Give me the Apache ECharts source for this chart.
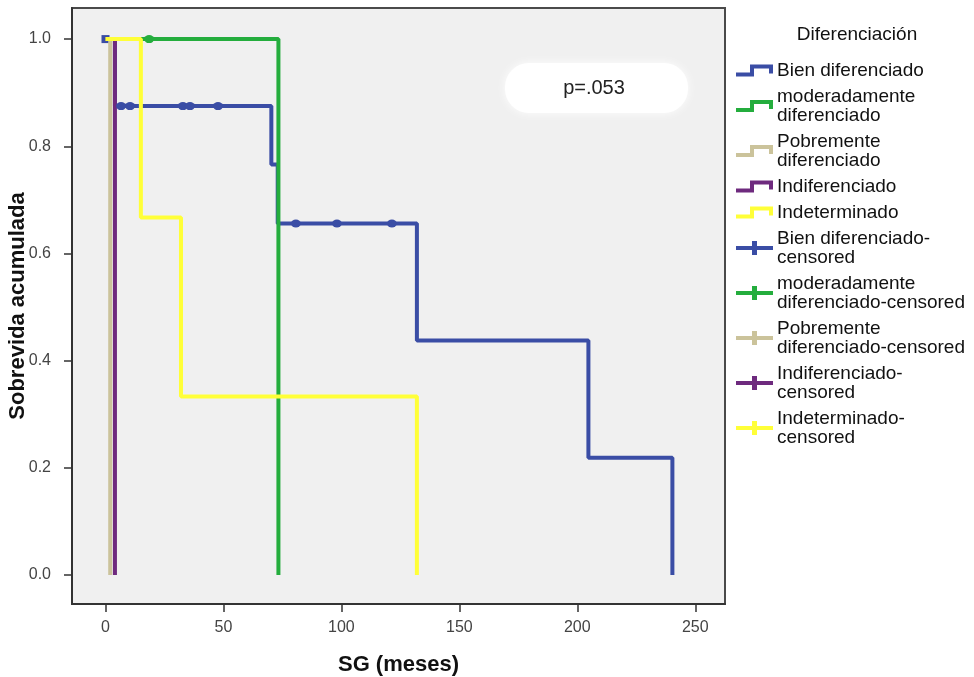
<!DOCTYPE html>
<html>
<head>
<meta charset="utf-8">
<script src="https://cdn.jsdelivr.net/npm/echarts@6/dist/echarts.min.js"></script>
<style>
html,body{margin:0;padding:0;background:#fff;}
#chart{width:974px;height:677px;}
</style>
</head>
<body>
<div id="chart"></div>
<script>
// ---- data ----
const xTicks = [0, 50, 100, 150, 200, 250];
const yTicks = [0, 0.2, 0.4, 0.6, 0.8, 1.0];

const groupNames = ['Bien diferenciado', 'moderadamente diferenciado', 'Pobremente diferenciado', 'Indiferenciado', 'Indeterminado'];

// survival step curves (time in months, cumulative survival)
const bienTimes = [0, 4, 70.3, 73, 132, 204.7, 240.3];
const bienSurv  = [1, 0.875, 0.766, 0.656, 0.4375, 0.219, 0];
const modTimes  = [0, 73.3];
const modSurv   = [1, 0];
const pobTimes  = [0, 2];
const pobSurv   = [1, 0];
const indifTimes = [0, 4];
const indifSurv  = [1, 0];
const indetTimes = [0, 15, 32, 132];
const indetSurv  = [1, 0.667, 0.333, 0];

// censored observations
const bienCensTimes = [6.6, 10.4, 32.8, 35.8, 47.7, 80.7, 98.1, 121.4];
const bienCensSurv  = [0.875, 0.875, 0.875, 0.875, 0.875, 0.656, 0.656, 0.656];
const modCensTimes = [18.5];
const modCensSurv  = [1];
const pobCensTimes = [];
const pobCensSurv  = [];
const indifCensTimes = [];
const indifCensSurv  = [];
const indetCensTimes = [];
const indetCensSurv  = [];

const pValueText = 'p=.053';

// ---- build ----
const colors = ['#3a4da5', '#24ad3d', '#cbc39b', '#6e2a7e', '#ffff38'];
const zip = (a, b) => a.map((v, i) => [v, b[i]]);
const curves = [
  zip(bienTimes, bienSurv), zip(modTimes, modSurv), zip(pobTimes, pobSurv),
  zip(indifTimes, indifSurv), zip(indetTimes, indetSurv)
];
const cens = [
  zip(bienCensTimes, bienCensSurv), zip(modCensTimes, modCensSurv), zip(pobCensTimes, pobCensSurv),
  zip(indifCensTimes, indifCensSurv), zip(indetCensTimes, indetCensSurv)
];

const wrap = {
  'Bien diferenciado': 'Bien diferenciado',
  'moderadamente diferenciado': 'moderadamente\ndiferenciado',
  'Pobremente diferenciado': 'Pobremente\ndiferenciado',
  'Indiferenciado': 'Indiferenciado',
  'Indeterminado': 'Indeterminado',
  'Bien diferenciado-censored': 'Bien diferenciado-\ncensored',
  'moderadamente diferenciado-censored': 'moderadamente\ndiferenciado-censored',
  'Pobremente diferenciado-censored': 'Pobremente\ndiferenciado-censored',
  'Indiferenciado-censored': 'Indiferenciado-\ncensored',
  'Indeterminado-censored': 'Indeterminado-\ncensored'
};

const stepIcon = 'path://M0,8 L14,8 L14,0 L37,0 L37,9 L33,9 L33,4 L18,4 L18,12 L0,12 Z';
const crossIcon = 'path://M0,5 L16,5 L16,0 L21,0 L21,5 L37,5 L37,9 L21,9 L21,14 L16,14 L16,9 L0,9 Z';

const series = [];
groupNames.forEach((name, i) => {
  const data = curves[i].map((p, k) => (i === 0 && k === 0)
    ? { value: p, symbol: 'rect', symbolSize: 8, itemStyle: { color: colors[0], borderWidth: 0 } }
    : { value: p, symbol: 'none' });
  series.push({
    name: name, type: 'line', step: 'end', data: data,
    showSymbol: true, showAllSymbol: true,
    itemStyle: { color: colors[i], opacity: 1 },
    lineStyle: { color: colors[i], width: 4 },
    z: 2 + i, animation: false, silent: true
  });
});
groupNames.forEach((name, i) => {
  series.push({
    name: name + '-censored', type: 'scatter', data: cens[i],
    symbol: 'circle', symbolSize: [10, 8],
    itemStyle: { color: colors[i], opacity: 1 },
    z: 10, animation: false, silent: true
  });
});

const legendData = [];
groupNames.forEach(n => legendData.push({ name: n, icon: stepIcon }));
groupNames.forEach(n => legendData.push({ name: n + '-censored', icon: crossIcon }));

const chart = echarts.init(document.getElementById('chart'), null, { renderer: 'canvas' });
chart.setOption({
  animation: false,
  backgroundColor: '#ffffff',
  grid: {
    left: 72, right: 249, top: 8, bottom: 73,
    containLabel: false, outerBoundsMode: 'none',
    show: true, backgroundColor: '#f0f0f0', borderColor: '#4a4a4a', borderWidth: 2
  },
  xAxis: {
    type: 'value', min: -14.2, max: 262.6,
    name: 'SG (meses)', nameLocation: 'middle', nameGap: 50, nameMoveOverlap: false,
    nameTextStyle: { fontFamily: 'Liberation Sans, Arial', fontWeight: 'bold', fontSize: 22, color: '#111' },
    axisLine: { show: true, onZero: false, lineStyle: { color: '#333', width: 2 } },
    axisTick: { show: true, length: 8, customValues: xTicks, lineStyle: { color: '#333', width: 1.5 } },
    axisLabel: { customValues: xTicks, margin: 16, fontFamily: 'Liberation Sans, Arial', fontSize: 16, color: '#444' },
    splitLine: { show: false }
  },
  yAxis: {
    type: 'value', min: -0.054, max: 1.058,
    name: 'Sobrevida acumulada', nameLocation: 'middle', nameGap: 43, nameRotate: 90, nameMoveOverlap: false,
    nameTextStyle: { fontFamily: 'Liberation Sans, Arial', fontWeight: 'bold', fontSize: 22, color: '#111' },
    axisLine: { show: true, onZero: false, lineStyle: { color: '#333', width: 2 } },
    axisTick: { show: true, length: 8, customValues: yTicks, lineStyle: { color: '#333', width: 1.5 } },
    axisLabel: { customValues: yTicks, margin: 21, fontFamily: 'Liberation Sans, Arial', fontSize: 16, color: '#444',
      formatter: v => v.toFixed(1) },
    splitLine: { show: false }
  },
  legend: {
    orient: 'vertical', left: 736, top: 61, padding: 0,
    itemWidth: 37, itemHeight: 14, itemGap: 7, selectedMode: false,
    data: legendData,
    formatter: n => wrap[n] || n,
    itemStyle: { opacity: 1 },
    textStyle: { fontFamily: 'Liberation Sans, Arial', fontSize: 19, lineHeight: 19, color: '#111', padding: [0, 0, 0, -1] }
  },
  graphic: [
    { type: 'rect', shape: { x: 505, y: 63, width: 183, height: 50, r: 24 },
      style: { fill: '#ffffff', shadowBlur: 10, shadowColor: 'rgba(255,255,255,0.9)' }, z: 1 },
    { type: 'text', x: 594, y: 88, z: 3,
      style: { text: pValueText, align: 'center', verticalAlign: 'middle',
        font: '20px "Liberation Sans", Arial', fill: '#222' } },
    { type: 'text', x: 857, y: 35, z: 3,
      style: { text: 'Diferenciación', align: 'center', verticalAlign: 'middle',
        font: '19px "Liberation Sans", Arial', fill: '#111' } }
  ],
  series: series
});
</script>
</body>
</html>
